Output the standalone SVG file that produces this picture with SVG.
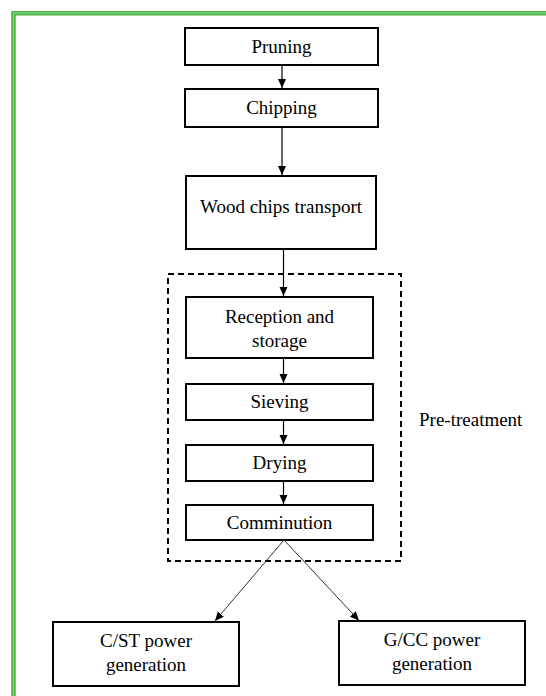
<svg xmlns="http://www.w3.org/2000/svg" width="546" height="696" viewBox="0 0 546 696">
<style>
.box{fill:#fff;stroke:#000;stroke-width:2}
.t{font-family:"Liberation Serif","Times New Roman",serif;font-size:19px;fill:#000;text-anchor:middle}
.c{stroke:#000;stroke-width:1.2;fill:none}
.d{stroke:#333;stroke-width:1;fill:none}
</style>
<defs>
<marker id="ah" markerWidth="10" markerHeight="10" refX="9" refY="5" orient="auto" markerUnits="userSpaceOnUse">
<path d="M0,1 L9,5 L0,9 Z" fill="#000"/>
</marker>
</defs>
<rect width="546" height="696" fill="#fff"/>
<path d="M13.5,700 V13.2 H550" fill="none" stroke="#4cb848" stroke-width="4.5"/>
<path d="M13.6,700 V13 H550" fill="none" stroke="#a6dca2" stroke-width="0.8"/>
<g id="pretreatment">
<rect x="168" y="274" width="233" height="287" fill="none" stroke="#000" stroke-width="2" stroke-dasharray="6,4"/>
<text class="t" x="419" y="426" style="text-anchor:start">Pre-treatment</text>
</g>
<g id="pruning"><rect class="box" x="185" y="28" width="193" height="37"/><text class="t" x="281.5" y="53">Pruning</text></g>
<g id="chipping"><rect class="box" x="185" y="89" width="193" height="38"/><text class="t" x="281.5" y="114">Chipping</text></g>
<g id="transport"><rect class="box" x="186" y="176" width="190" height="73"/><text class="t" x="281" y="213">Wood chips transport</text></g>
<g id="reception"><rect class="box" x="186" y="297" width="187" height="61"/><text class="t" x="279.5" y="323">Reception and</text><text class="t" x="279.5" y="347">storage</text></g>
<g id="sieving"><rect class="box" x="186" y="384" width="187" height="36"/><text class="t" x="279.5" y="408">Sieving</text></g>
<g id="drying"><rect class="box" x="186" y="445" width="187" height="36"/><text class="t" x="279.5" y="469">Drying</text></g>
<g id="comminution"><rect class="box" x="186" y="505" width="187" height="35"/><text class="t" x="279.5" y="529">Comminution</text></g>
<g id="cst"><rect class="box" x="53" y="622" width="186" height="64"/><text class="t" x="146" y="647">C/ST power</text><text class="t" x="146" y="671">generation</text></g>
<g id="gcc"><rect class="box" x="339" y="621" width="186" height="64"/><text class="t" x="432" y="646">G/CC power</text><text class="t" x="432" y="670">generation</text></g>
<g id="connectors">
<line class="c" x1="282" y1="65" x2="282" y2="88" marker-end="url(#ah)"/>
<line class="c" x1="282" y1="127" x2="282" y2="175" marker-end="url(#ah)"/>
<line class="c" x1="283.5" y1="249" x2="283.5" y2="296" marker-end="url(#ah)"/>
<line class="c" x1="283.5" y1="358" x2="283.5" y2="383" marker-end="url(#ah)"/>
<line class="c" x1="283.5" y1="420" x2="283.5" y2="444" marker-end="url(#ah)"/>
<line class="c" x1="283.5" y1="481" x2="283.5" y2="504" marker-end="url(#ah)"/>
<line class="d" x1="284" y1="540" x2="215" y2="621" marker-end="url(#ah)"/>
<line class="d" x1="284" y1="540" x2="359" y2="620.5" marker-end="url(#ah)"/>
</g>
</svg>
